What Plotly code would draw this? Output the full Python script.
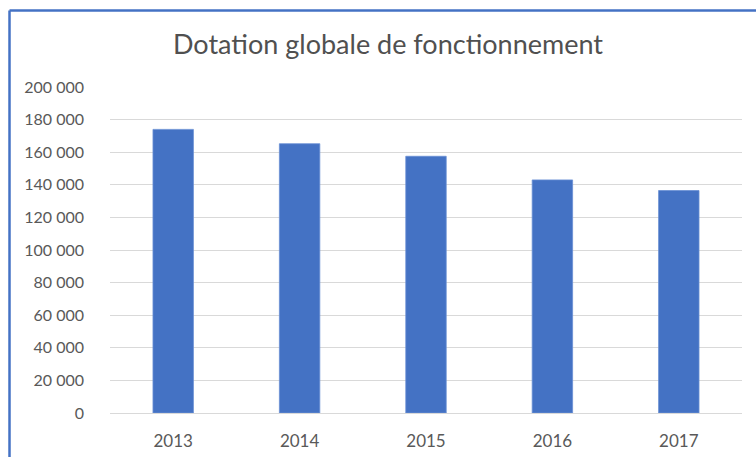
import plotly.graph_objects as go

years = ["2013", "2014", "2015", "2016", "2017"]
values = [174000, 165200, 157500, 143000, 136500]
ytick_vals = [0, 20000, 40000, 60000, 80000, 100000, 120000, 140000, 160000, 180000, 200000]
ytick_text = ["0", "20\u00a0000", "40\u00a0000", "60\u00a0000", "80\u00a0000", "100\u00a0000",
              "120\u00a0000", "140\u00a0000", "160\u00a0000", "180\u00a0000", "200\u00a0000"]
title_text = "Dotation globale de fonctionnement"

W, H = 756, 457
ml, mr, mt, mb = 110, 14, 87, 44
pw, ph = W - ml - mr, H - mt - mb

fig = go.Figure(go.Bar(x=years, y=values, marker=dict(color="#4472C4", line=dict(color="#6a8fd4", width=0.8)),
                       width=0.32))

def px_x(p):
    return (p - ml) / pw

def px_y(p):
    return (H - mb - p) / ph

border = "#4472C4"
fig.add_shape(type="line", xref="paper", yref="paper", x0=px_x(9.5), x1=px_x(760), y0=px_y(10.5), y1=px_y(10.5),
              line=dict(color=border, width=2.5))
fig.add_shape(type="line", xref="paper", yref="paper", x0=px_x(9.5), x1=px_x(9.5), y0=px_y(10.5), y1=px_y(460),
              line=dict(color=border, width=2.5))

fig.update_layout(
    width=W, height=H,
    margin=dict(l=ml, r=mr, t=mt, b=mb, autoexpand=False),
    paper_bgcolor="white", plot_bgcolor="white",
    font=dict(family="Lato, Open Sans, sans-serif", color="#595959"),
    title=dict(text=title_text, x=388 / W, xanchor="center", y=1 - 45 / H, yanchor="middle",
               font=dict(size=27, color="#505050", family="Lato, Open Sans, sans-serif")),
    showlegend=False,
    xaxis=dict(showgrid=False, showline=False, tickfont=dict(size=17, color="#595959"),
               ticklabelstandoff=16, automargin=False),
    yaxis=dict(range=[0, 200000], tickvals=ytick_vals, ticktext=ytick_text,
               showgrid=True, gridcolor="#d9d9d9", gridwidth=1, zeroline=True, zerolinecolor="#d9d9d9",
               zerolinewidth=1, showline=False, tickfont=dict(size=16, color="#595959"),
               ticklabelstandoff=25, automargin=False),
)

fig.write_html("out.html", config={"displayModeBar": False},
               post_script="document.body.style.margin='0';document.body.style.overflow='hidden';")
